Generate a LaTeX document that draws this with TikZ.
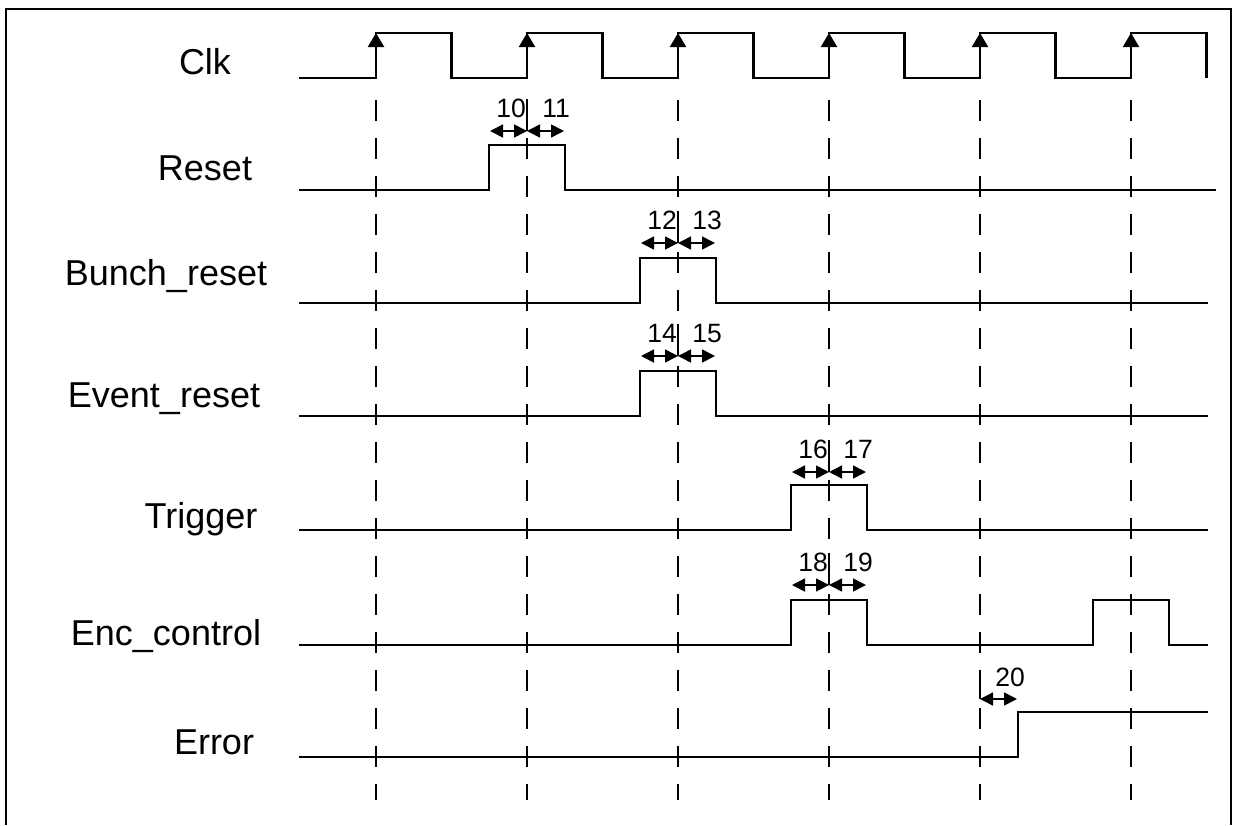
\documentclass[tikz,border=0pt]{standalone}
\usepackage{fontspec}
\setmainfont{Liberation Sans}
\usetikzlibrary{arrows.meta}

\begin{document}
\begin{tikzpicture}[
  x=1pt, y=-1pt,
  >={Triangle[length=13pt,width=13pt]},
  wave/.style={line width=2.2pt},
  guide/.style={line width=1.8pt,dash pattern=on 21pt off 17pt},
  sname/.style={font=\fontsize{36}{40}\selectfont,inner sep=0pt,anchor=base},
  tnum/.style={font=\fontsize{26.5}{30}\selectfont,inner sep=0pt,anchor=base},
  span/.style={<->,line width=1.6pt},
  tickmark/.style={line width=1.2pt}
]
\useasboundingbox (0,0) rectangle (1233,825);
\def\T{151}   % clock period
\def\w{38}    % half width of a pulse
\def\h{45}    % pulse height
\def\xs{299}  % traces start here

% frame, open at the bottom
\draw[line width=2pt] (6,825) -- (6,9) -- (1231,9) -- (1231,825);

% rising clock edges and the dashed guides below them
\foreach \i in {0,...,5} {
  \coordinate (e\i) at ({376+\T*\i},78);
  \coordinate (g\i) at ({376+\T*\i},100);
  \coordinate (f\i) at ({376+\T*\i},800);
  \draw[guide] (g\i) -- (f\i);
}

% signal names
\node[sname] (clk)  at (205,74)  {Clk};
\node[sname] (rst)  at (205,180) {Reset};
\node[sname] (brst) at (166,285) {Bunch\_reset};
\node[sname] (erst) at (164,407) {Event\_reset};
\node[sname] (trg)  at (201,528) {Trigger};
\node[sname] (enc)  at (166,645) {Enc\_control};
\node[sname] (err)  at (214,754) {Error};

% clock
\draw[wave] (\xs,78) \foreach \i in {0,...,5} {
  -- (e\i) -- ++(0,-\h) -- ++(\T/2,0) -- ++(0,\h)
};
\foreach \i in {0,...,5}
  \draw[wave,-{Triangle[length=14pt,width=16pt]}] (e\i) -- ++(0,-\h);

% single pulses round a clock edge
\draw[wave] (\xs,190) -- (527-\w,190) -- ++(0,-\h) -- ++(2*\w,0) -- ++(0,\h) -- (1216,190);
\draw[wave] (\xs,303) -- (678-\w,303) -- ++(0,-\h) -- ++(2*\w,0) -- ++(0,\h) -- (1208,303);
\draw[wave] (\xs,416) -- (678-\w,416) -- ++(0,-\h) -- ++(2*\w,0) -- ++(0,\h) -- (1208,416);
\draw[wave] (\xs,530) -- (829-\w,530) -- ++(0,-\h) -- ++(2*\w,0) -- ++(0,\h) -- (1208,530);
\draw[wave] (\xs,645) -- (829-\w,645) -- ++(0,-\h) -- ++(2*\w,0) -- ++(0,\h)
  -- (1131-\w,645) -- ++(0,-\h) -- ++(2*\w,0) -- ++(0,\h) -- (1208,645);
% error goes high and stays
\draw[wave] (\xs,757) -- (980+\w,757) -- ++(0,-\h) -- (1208,712);

% setup / hold times
\foreach \x/\y/\a/\b in {527/131/10/11, 678/243/12/13, 678/356/14/15,
                         829/472/16/17, 829/585/18/19} {
  \coordinate (m\a) at (\x,\y);
  \coordinate (l\a) at (\x-37,\y);
  \coordinate (r\a) at (\x+37,\y);
  \draw[span] (l\a) -- (m\a);
  \draw[span] (m\a) -- (r\a);
  \draw[tickmark] (m\a) -- ++(0,-32);
  \node[tnum] (n\a) at (\x-16,\y-14) {\a};
  \node[tnum] (n\b) at (\x+29,\y-14) {\b};
}
\coordinate (m20) at (980,699);
\coordinate (r20) at (1017,699);
\draw[span] (m20) -- (r20);
\draw[tickmark] (m20) -- ++(0,-21);
\node[tnum] (n20) at (1010,686) {20};

\end{tikzpicture}
\end{document}
